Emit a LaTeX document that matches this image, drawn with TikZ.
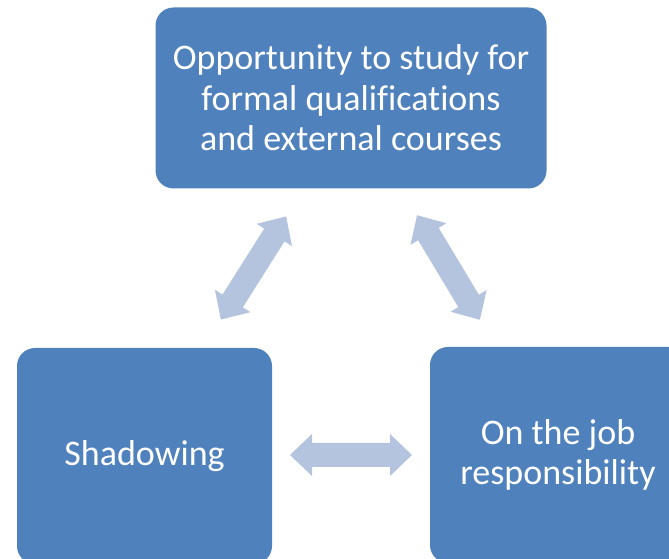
\documentclass[tikz,border=0pt]{standalone}
\usepackage{fontspec}
\setmainfont{Carlito}[Ligatures=NoCommon]
\definecolor{boxblue}{HTML}{4F81BD}
\definecolor{arrowblue}{HTML}{B4C4DF}
\begin{document}
\begin{tikzpicture}[x=1pt,y=1pt,
  stage/.style={fill=boxblue, draw=none, rounded corners=18pt, text=white,
    align=center, font=\fontsize{36}{40.5}\selectfont, inner sep=0pt},
  dblarrow/.pic={
    % block double arrow centred at the origin, pointing along the x axis
    \fill[arrowblue] (-61,0) -- (-39,21) -- (-39,12) -- (39,12) -- (39,21)
      -- (61,0) -- (39,-21) -- (39,-12) -- (-39,-12) -- (-39,-21) -- cycle;
  }]
\useasboundingbox (0,0) rectangle (669,559);
\begin{scope}
\clip (0,0) rectangle (669,559);
\node[stage, minimum width=391pt, minimum height=181pt] (study) at (351,461)
  {Opportunity to study for\\formal qualifications\\and external courses};
\node[stage, minimum width=255pt, minimum height=216pt] (shadow) at (144.5,103)
  {Shadowing};
\node[stage, minimum width=256pt, minimum height=216pt] (job) at (558,104)
  {On the job\\responsibility};
\end{scope}
\coordinate (a1) at (253.5,291);
\coordinate (a2) at (448.5,291.5);
\coordinate (a3) at (351,104);
\pic[rotate=57.7] at (a1) {dblarrow};
\pic[rotate=121] at (a2) {dblarrow};
\pic at (a3) {dblarrow};
\end{tikzpicture}
\end{document}
